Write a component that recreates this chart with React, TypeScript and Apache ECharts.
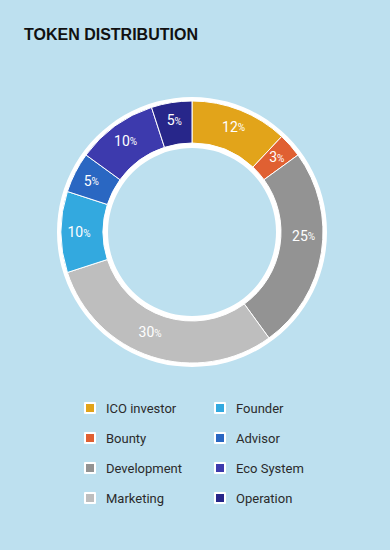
import React, { useEffect, useRef } from "react";
import * as echarts from "echarts";

const categories = ["ICO investor", "Bounty", "Development", "Marketing", "Founder", "Advisor", "Eco System", "Operation"];
const values = [12, 3, 25, 30, 10, 5, 10, 5];
const colors = ["#E2A41A", "#E06032", "#939393", "#BEBEBE", "#33A9DF", "#2A67C2", "#3D3AAD", "#27268A"];
const legendLeft = categories.slice(0, 4);
const legendRight = categories.slice(4);
const title = "TOKEN DISTRIBUTION";

export default function App() {
  const ref = useRef<HTMLDivElement>(null);
  useEffect(() => {
    document.body.style.margin = "0";
    const chart = echarts.init(ref.current!, null, { renderer: "svg" });
    const legendCommon = {
      orient: "vertical",
      top: 400,
      padding: 0,
      itemWidth: 10,
      itemHeight: 10,
      itemGap: 14,
      icon: "rect",
      selectedMode: false,
      textStyle: {
        fontFamily: "Roboto",
        fontSize: 13,
        color: "#2b2b2b",
        lineHeight: 16,
        padding: [0, 0, 0, 6],
      },
    };
    // small manual nudges of a few labels, as in the reference
    const labelPadding: Record<string, number[]> = {
      Development: [0, 0, 28, 0],
      Marketing: [0, 14, 14, 0],
    };
    chart.setOption({
      animation: false,
      backgroundColor: "#BDE0EF",
      color: colors,
      title: {
        text: title,
        left: 24,
        top: 26,
        padding: 0,
        textStyle: { fontFamily: "Liberation Sans", fontWeight: "bold", fontSize: 16, color: "#111" },
      },
      legend: [
        { ...legendCommon, left: 84, data: legendLeft },
        { ...legendCommon, left: 214, data: legendRight },
      ],
      series: [
        {
          type: "pie",
          silent: true,
          center: [192, 232],
          radius: [84, 135],
          label: { show: false },
          labelLine: { show: false },
          itemStyle: { color: "#ffffff" },
          data: [{ value: 1, name: "__bg" }],
          legendHoverLink: false,
        },
        {
          type: "pie",
          center: [192, 232],
          radius: [89, 131],
          startAngle: 90,
          clockwise: true,
          itemStyle: { borderColor: "#ffffff", borderWidth: 1 },
          label: {
            show: true,
            position: "inside",
            formatter: (p: any) => `{n|${p.value}}{p|%}`,
            rich: {
              n: { fontFamily: "Roboto", fontSize: 14, color: "#ffffff" },
              p: { fontFamily: "Roboto", fontSize: 10, color: "#ffffff", padding: [2, 0, 0, 0] },
            },
          },
          labelLine: { show: false },
          data: categories.map((c, i) => ({
            name: c,
            value: values[i],
            ...(labelPadding[c] ? { label: { padding: labelPadding[c] } } : {}),
          })),
        },
      ],
    });
    return () => chart.dispose();
  }, []);
  return <div ref={ref} style={{ width: 390, height: 550 }} />;
}
